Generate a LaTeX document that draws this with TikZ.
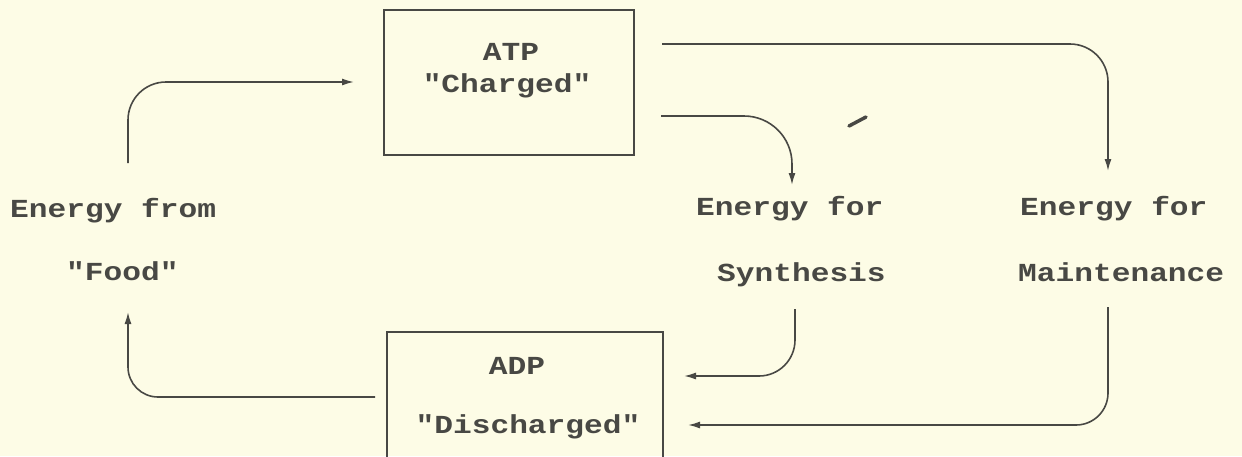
\documentclass[tikz,border=0pt]{standalone}
\usepackage{fontspec}
\newfontfamily\typew[FakeStretch=1.2]{Liberation Mono}
\usetikzlibrary{arrows.meta}
\definecolor{paper}{RGB}{253,252,230}
\definecolor{ink}{RGB}{72,72,68}
\tikzset{
  lbl/.style={inner sep=0pt, text=ink, font=\typew\bfseries\fontsize{26}{31}\selectfont},
  boxnode/.style={draw=ink, line width=1.6pt, inner sep=0pt},
  arr/.style={draw=ink, line width=1.6pt, -{Latex[length=12pt,width=7pt]}},
}
\begin{document}
\begin{tikzpicture}[x=1pt,y=-1pt]
\fill[paper] (0,0) rectangle (1242,456);
\useasboundingbox (0,0) rectangle (1242,456);
\begin{scope}
\clip (0,0) rectangle (1242,456);
% boxes
\node[boxnode, minimum width=250pt, minimum height=145pt] (atp) at (509,82.5) {};
\node[boxnode, minimum width=276pt, minimum height=150pt] (adp) at (525,407) {};
% box texts
\node[lbl, anchor=base] (atpt) at (511,60) {ATP};
\node[lbl, anchor=base] (atpc) at (507,92) {"Charged"};
\node[lbl, anchor=base] (adpt) at (517,374) {ADP};
\node[lbl, anchor=base] (adpc) at (528,433) {"Discharged"};
% side labels
\node[lbl, anchor=base west] (food1) at (10,217) {Energy from};
\node[lbl, anchor=base west] (food2) at (66,280) {"Food"};
\node[lbl, anchor=base west] (syn1) at (696,215) {Energy for};
\node[lbl, anchor=base west] (syn2) at (717,281) {Synthesis};
\node[lbl, anchor=base west] (mnt1) at (1020,215) {Energy for};
\node[lbl, anchor=base west] (mnt2) at (1018,281) {Maintenance};
% connector end points
\coordinate (foodout) at (128,163);
\coordinate (atpin) at (354,82);
\coordinate (atpout1) at (662,44);
\coordinate (mntin) at (1108,171);
\coordinate (atpout2) at (661,116);
\coordinate (synin) at (792,185);
\coordinate (synout) at (795,309);
\coordinate (adpin1) at (684,376);
\coordinate (mntout) at (1108,307);
\coordinate (adpin2) at (688,425);
\coordinate (adpout) at (375,397);
\coordinate (foodin) at (128,312);
% connectors
\draw[arr, rounded corners=38pt] (foodout) |- (atpin);
\draw[arr, rounded corners=38pt] (atpout1) -| (mntin);
\draw[arr, rounded corners=48pt] (atpout2) -| (synin);
\draw[arr, rounded corners=36pt] (synout) |- (adpin1);
\draw[arr, rounded corners=32pt] (mntout) |- (adpin2);
\draw[arr, rounded corners=30pt] (adpout) -| (foodin);
% smudge
\draw[ink, line width=3.5pt, line cap=round] (849,126) -- (866,117);
\end{scope}
\end{tikzpicture}
\end{document}
